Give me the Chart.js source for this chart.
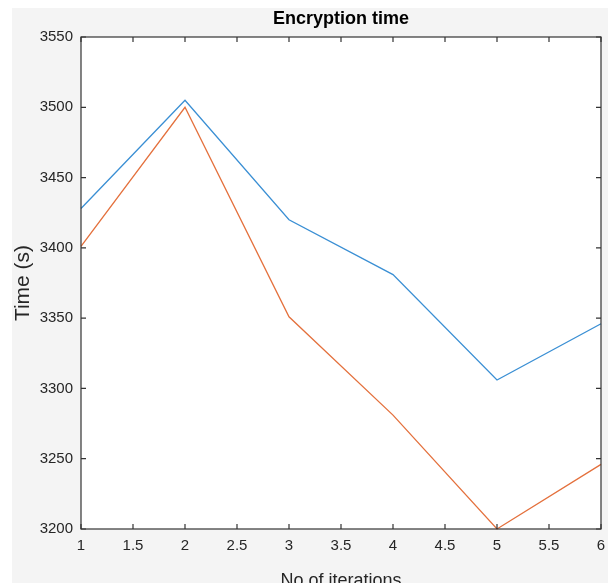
<!DOCTYPE html>
<html>
<head>
<meta charset="utf-8">
<script src="https://cdn.jsdelivr.net/npm/chart.js@4/dist/chart.umd.min.js"></script>
<style>
  html, body { margin: 0; padding: 0; background: #ffffff; overflow: hidden; }
  #wrap { position: absolute; left: 0; top: 0; width: 609px; height: 600px; }
</style>
</head>
<body>
<div id="wrap"><canvas id="chart" width="609" height="600"></canvas></div>
<script>
// Iteration numbers and measured encryption times (seconds)
const iterations = [1, 2, 3, 4, 5, 6];
const seriesA = [3428, 3505, 3420, 3381, 3306, 3346];
const seriesB = [3401, 3500, 3351, 3281, 3200, 3246];

// Axis ranges and tick steps
const xRange = [1, 6];
const xStep = 0.5;
const yRange = [3200, 3550];
const yStep = 50;

const axisColor = '#333333';
const textColor = '#262626';
const fontFamily = '"Liberation Sans", Arial, sans-serif';

function points(xs, ys) {
  return xs.map((x, i) => ({ x: x, y: ys[i] }));
}

// Grey figure background with a white axes area
const figureBackground = {
  id: 'figureBackground',
  beforeDraw(chart) {
    const { ctx, chartArea: a, width, height } = chart;
    ctx.save();
    ctx.fillStyle = '#ffffff';
    ctx.fillRect(0, 0, width, height);
    ctx.fillStyle = '#f4f4f4';
    ctx.fillRect(12, 8, width - 13, height - 8);
    ctx.fillStyle = '#ffffff';
    ctx.fillRect(a.left, a.top, a.right - a.left, a.bottom - a.top);
    ctx.restore();
  }
};

// Center the title over the axes rather than the whole canvas
const titleOverAxes = {
  id: 'titleOverAxes',
  afterLayout(chart) {
    if (chart.titleBlock) {
      chart.titleBlock.left = chart.chartArea.left;
      chart.titleBlock.right = chart.chartArea.right;
    }
  }
};

// Closed box around the axes with inward tick marks on all four sides
const axesBox = {
  id: 'axesBox',
  afterDatasetsDraw(chart) {
    const { ctx, chartArea: a, scales } = chart;
    const len = 5;
    ctx.save();
    ctx.strokeStyle = axisColor;
    ctx.lineWidth = 1.2;
    ctx.beginPath();
    scales.x.ticks.forEach(t => {
      const px = scales.x.getPixelForValue(t.value);
      ctx.moveTo(px, a.bottom); ctx.lineTo(px, a.bottom - len);
      ctx.moveTo(px, a.top); ctx.lineTo(px, a.top + len);
    });
    scales.y.ticks.forEach(t => {
      const py = scales.y.getPixelForValue(t.value);
      ctx.moveTo(a.left, py); ctx.lineTo(a.left + len, py);
      ctx.moveTo(a.right, py); ctx.lineTo(a.right - len, py);
    });
    ctx.stroke();
    ctx.strokeRect(a.left, a.top, a.right - a.left, a.bottom - a.top);
    ctx.restore();
  }
};

new Chart(document.getElementById('chart'), {
  type: 'line',
  data: {
    datasets: [
      {
        data: points(iterations, seriesA),
        borderColor: '#3a8fd4',
        borderWidth: 1.3,
        pointRadius: 0,
        tension: 0,
        clip: 3
      },
      {
        data: points(iterations, seriesB),
        borderColor: '#e4703c',
        borderWidth: 1.3,
        pointRadius: 0,
        tension: 0,
        clip: 3
      }
    ]
  },
  options: {
    responsive: false,
    devicePixelRatio: 1,
    animation: false,
    layout: { padding: { left: 11, right: 8, top: 8, bottom: 0 } },
    plugins: {
      legend: { display: false },
      tooltip: { enabled: false },
      title: {
        display: true,
        text: 'Encryption time',
        color: '#000000',
        font: { family: fontFamily, size: 18, weight: 'bold' },
        padding: { top: 0, bottom: 7.4 }
      }
    },
    scales: {
      x: {
        type: 'linear',
        min: xRange[0],
        max: xRange[1],
        afterFit(scale) {
          scale.height = 71;
          scale.paddingLeft = 0;
          scale.paddingRight = 0;
        },
        grid: { display: false, drawTicks: false },
        border: { display: false },
        ticks: {
          stepSize: xStep,
          padding: 8,
          color: textColor,
          font: { family: fontFamily, size: 15 },
          maxRotation: 0,
          autoSkip: false,
          callback: v => String(v)
        },
        title: {
          display: true,
          text: 'No of iterations',
          color: textColor,
          font: { family: fontFamily, size: 18 },
          padding: { top: 0, bottom: 8 }
        }
      },
      y: {
        type: 'linear',
        min: yRange[0],
        max: yRange[1],
        afterFit(scale) { scale.width = 70; },
        grid: { display: false, drawTicks: false },
        border: { display: false },
        ticks: {
          stepSize: yStep,
          padding: 8,
          color: textColor,
          font: { family: fontFamily, size: 15 },
          autoSkip: false,
          callback: v => String(v)
        },
        title: {
          display: true,
          text: 'Time (s)',
          color: textColor,
          font: { family: fontFamily, size: 21 },
          padding: { top: 0, bottom: 0 }
        }
      }
    }
  },
  plugins: [figureBackground, titleOverAxes, axesBox]
});
</script>
</body>
</html>
